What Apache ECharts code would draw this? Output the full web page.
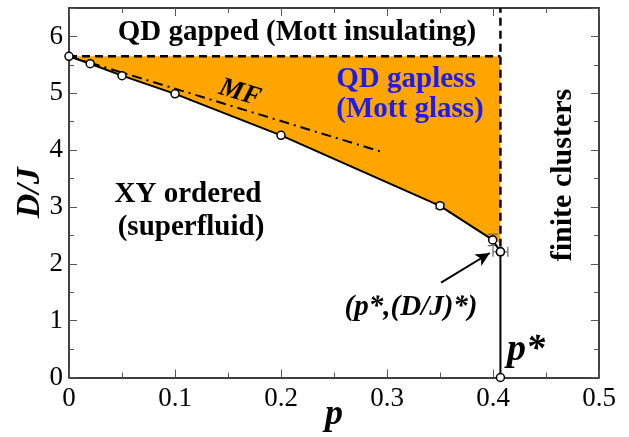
<!DOCTYPE html>
<html><head><meta charset="utf-8">
<script src="https://cdn.jsdelivr.net/npm/echarts@6/dist/echarts.min.js"></script>
<style>html,body{margin:0;padding:0;background:#fff}#c{width:629px;height:437px}</style>
</head><body><div id="c"></div>
<script>
// Data
const pVals  = [0, 0.02, 0.05, 0.1, 0.2, 0.35, 0.3997, 0.407];
const djVals = [5.65, 5.52, 5.31, 4.99, 4.26, 3.02, 2.42, 2.21];
const pStar = 0.407;
const djTop = 5.65;
const fillBottomDJ = 2.36;
const mfP  = [0, 0.295];
const mfDJ = [5.65, 3.97];
const errP  = [0.35, 0.3997, 0.407];
const errDJ = [3.02, 2.42, 2.21];
const errXs = [0, 0, 0.007];
const errYs = [0.05, 0.1, 0];
const arrowFrom = [0.351, 1.67];
const arrowTo   = [0.397, 2.19];
const xTicks = [0, 0.1, 0.2, 0.3, 0.4, 0.5];
const yTicks = [0, 1, 2, 3, 4, 5, 6];

const curve = pVals.map((p, i) => [p, djVals[i]]);
const fillPoly = curve.slice(0, 7).concat([[pStar, fillBottomDJ], [pStar, djTop]]);
const SERIF = "'Liberation Serif', 'Times New Roman', Times, 'DejaVu Serif', serif";

const chart = echarts.init(document.getElementById('c'));
const axisCommon = {
  type: 'value',
  axisLine: { show: true, onZero: false, lineStyle: { color: '#000', width: 1.5 } },
  axisTick: { show: true, inside: true, length: 8, lineStyle: { color: '#555', width: 1 } },
  minorTick: { show: true, splitNumber: 2, length: 5, lineStyle: { color: '#555', width: 1 } },
  splitLine: { show: false },
  minorSplitLine: { show: false }
};
chart.setOption({
  animation: false,
  textStyle: { fontFamily: SERIF },
  grid: { left: 69, right: 30, top: 8, bottom: 59.5, containLabel: false, outerBoundsMode: 'none' },
  xAxis: [
    Object.assign({}, axisCommon, {
      min: 0, max: 0.5, interval: 0.1, position: 'bottom',
      name: 'p', nameLocation: 'middle', nameGap: 19, nameMoveOverlap: false,
      nameTextStyle: { fontFamily: SERIF, fontSize: 36, fontWeight: 'bold', fontStyle: 'italic', color: '#000' },
      axisLabel: { fontFamily: SERIF, fontSize: 27, color: '#000', margin: 8,
        formatter: v => xTicks.includes(Math.round(v * 10) / 10) ? String(Math.round(v * 10) / 10) : '' }
    }),
    Object.assign({}, axisCommon, {
      min: 0, max: 0.5, interval: 0.1, position: 'top', axisLabel: { show: false }
    })
  ],
  yAxis: [
    Object.assign({}, axisCommon, {
      min: 0, max: 6.5, interval: 1, position: 'left',
      name: 'D/J', nameLocation: 'middle', nameGap: 22, nameRotate: 90, nameMoveOverlap: false,
      nameTextStyle: { fontFamily: SERIF, fontSize: 34, fontWeight: 'bold', fontStyle: 'italic', color: '#000' },
      axisLabel: { fontFamily: SERIF, fontSize: 27, color: '#000', margin: 6,
        formatter: v => yTicks.includes(v) ? String(v) : '' }
    }),
    Object.assign({}, axisCommon, {
      min: 0, max: 6.5, interval: 1, position: 'right', axisLabel: { show: false }
    })
  ],
  series: [
    {
      type: 'custom', z: 1, silent: true,
      renderItem: function (params, api) {
        if (params.dataIndex !== 0) return;
        const pts = fillPoly.map(d => api.coord(d));
        return { type: 'polygon', shape: { points: pts }, style: { fill: '#FFA500' } };
      },
      data: [0]
    },
    {
      type: 'line', z: 3, symbol: 'none', silent: true,
      data: [[0, djTop], [pStar, djTop]],
      lineStyle: { color: '#000', width: 2.5, type: [8, 5] }
    },
    {
      type: 'line', z: 3, symbol: 'none', silent: true,
      data: [[pStar, 2.3], [pStar, 6.5]],
      lineStyle: { color: '#000', width: 2.5, type: [8, 5] }
    },
    {
      type: 'line', z: 3, symbol: 'none', silent: true,
      data: mfP.map((p, i) => [p, mfDJ[i]]),
      lineStyle: { color: '#000', width: 2, type: [10, 5, 2, 5] }
    },
    {
      type: 'custom', z: 4, silent: true,
      renderItem: function (params, api) {
        const i = params.dataIndex;
        const p = errP[i], d = errDJ[i], ex = errXs[i], ey = errYs[i];
        const children = [];
        const st = { stroke: '#666', lineWidth: 1.2 };
        if (ey > 0) {
          const a = api.coord([p, d - ey]), b = api.coord([p, d + ey]);
          children.push({ type: 'line', shape: { x1: a[0], y1: a[1], x2: b[0], y2: b[1] }, style: st });
          children.push({ type: 'line', shape: { x1: a[0] - 5, y1: a[1], x2: a[0] + 5, y2: a[1] }, style: st });
          children.push({ type: 'line', shape: { x1: b[0] - 5, y1: b[1], x2: b[0] + 5, y2: b[1] }, style: st });
        }
        if (ex > 0) {
          const a = api.coord([p - ex, d]), b = api.coord([p + ex, d]);
          children.push({ type: 'line', shape: { x1: a[0], y1: a[1], x2: b[0], y2: b[1] }, style: st });
          children.push({ type: 'line', shape: { x1: a[0], y1: a[1] - 5, x2: a[0], y2: a[1] + 5 }, style: st });
          children.push({ type: 'line', shape: { x1: b[0], y1: b[1] - 5, x2: b[0], y2: b[1] + 5 }, style: st });
        }
        return { type: 'group', children: children };
      },
      data: errP.map((p, i) => i)
    },
    {
      type: 'line', z: 5, silent: true,
      data: [[pStar, djVals[djVals.length - 1]], [pStar, 0]],
      symbol: 'circle', symbolSize: 8, showAllSymbol: true,
      itemStyle: { color: '#fff', borderColor: '#000', borderWidth: 1.5 },
      lineStyle: { color: '#000', width: 2 }
    },
    {
      type: 'line', z: 6, silent: true,
      data: curve,
      symbol: 'circle', symbolSize: 8, showAllSymbol: true,
      itemStyle: { color: '#fff', borderColor: '#000', borderWidth: 1.5 },
      lineStyle: { color: '#000', width: 2 },
      markLine: {
        silent: true, symbol: ['none', 'arrow'], symbolSize: [10, 14],
        label: { show: false },
        lineStyle: { color: '#000', width: 2, type: 'solid' },
        data: [[{ coord: arrowFrom }, { coord: arrowTo }]]
      }
    }
  ],
  graphic: [
    { type: 'text', z: 100, style: { text: 'QD gapped (Mott insulating)', x: 297, y: 33, font: 'bold 29px ' + SERIF, fill: '#000', textAlign: 'center', textVerticalAlign: 'middle' } },
    { type: 'text', z: 100, style: { text: 'QD gapless', x: 406, y: 80, font: 'bold 29px ' + SERIF, fill: '#1c1cf0', textAlign: 'center', textVerticalAlign: 'middle' } },
    { type: 'text', z: 100, style: { text: '(Mott glass)', x: 410, y: 110, font: 'bold 29px ' + SERIF, fill: '#1c1cf0', textAlign: 'center', textVerticalAlign: 'middle' } },
    { type: 'text', z: 100, style: { text: 'XY ordered', x: 188, y: 195, font: 'bold 29px ' + SERIF, fill: '#000', textAlign: 'center', textVerticalAlign: 'middle' } },
    { type: 'text', z: 100, style: { text: '(superfluid)', x: 191, y: 228, font: 'bold 29px ' + SERIF, fill: '#000', textAlign: 'center', textVerticalAlign: 'middle' } },
    { type: 'text', z: 100, x: 563, y: 175, rotation: Math.PI / 2, style: { text: 'finite clusters', x: 0, y: 0, font: 'bold 30px ' + SERIF, fill: '#000', textAlign: 'center', textVerticalAlign: 'middle' } },
    { type: 'text', z: 100, x: 240, y: 93, rotation: -17 * Math.PI / 180, style: { text: 'MF', x: 0, y: 0, font: 'italic bold 27px ' + SERIF, fill: '#000', textAlign: 'center', textVerticalAlign: 'middle' } },
    { type: 'text', z: 100, style: { text: '(p*,(D/J)*)', x: 411, y: 308, font: 'italic bold 29px ' + SERIF, fill: '#000', textAlign: 'center', textVerticalAlign: 'middle' } },
    { type: 'text', z: 100, style: { text: 'p*', x: 507, y: 350, font: 'italic bold 38px ' + SERIF, fill: '#000', textAlign: 'left', textVerticalAlign: 'middle' } }
  ]
});
</script>
</body></html>
